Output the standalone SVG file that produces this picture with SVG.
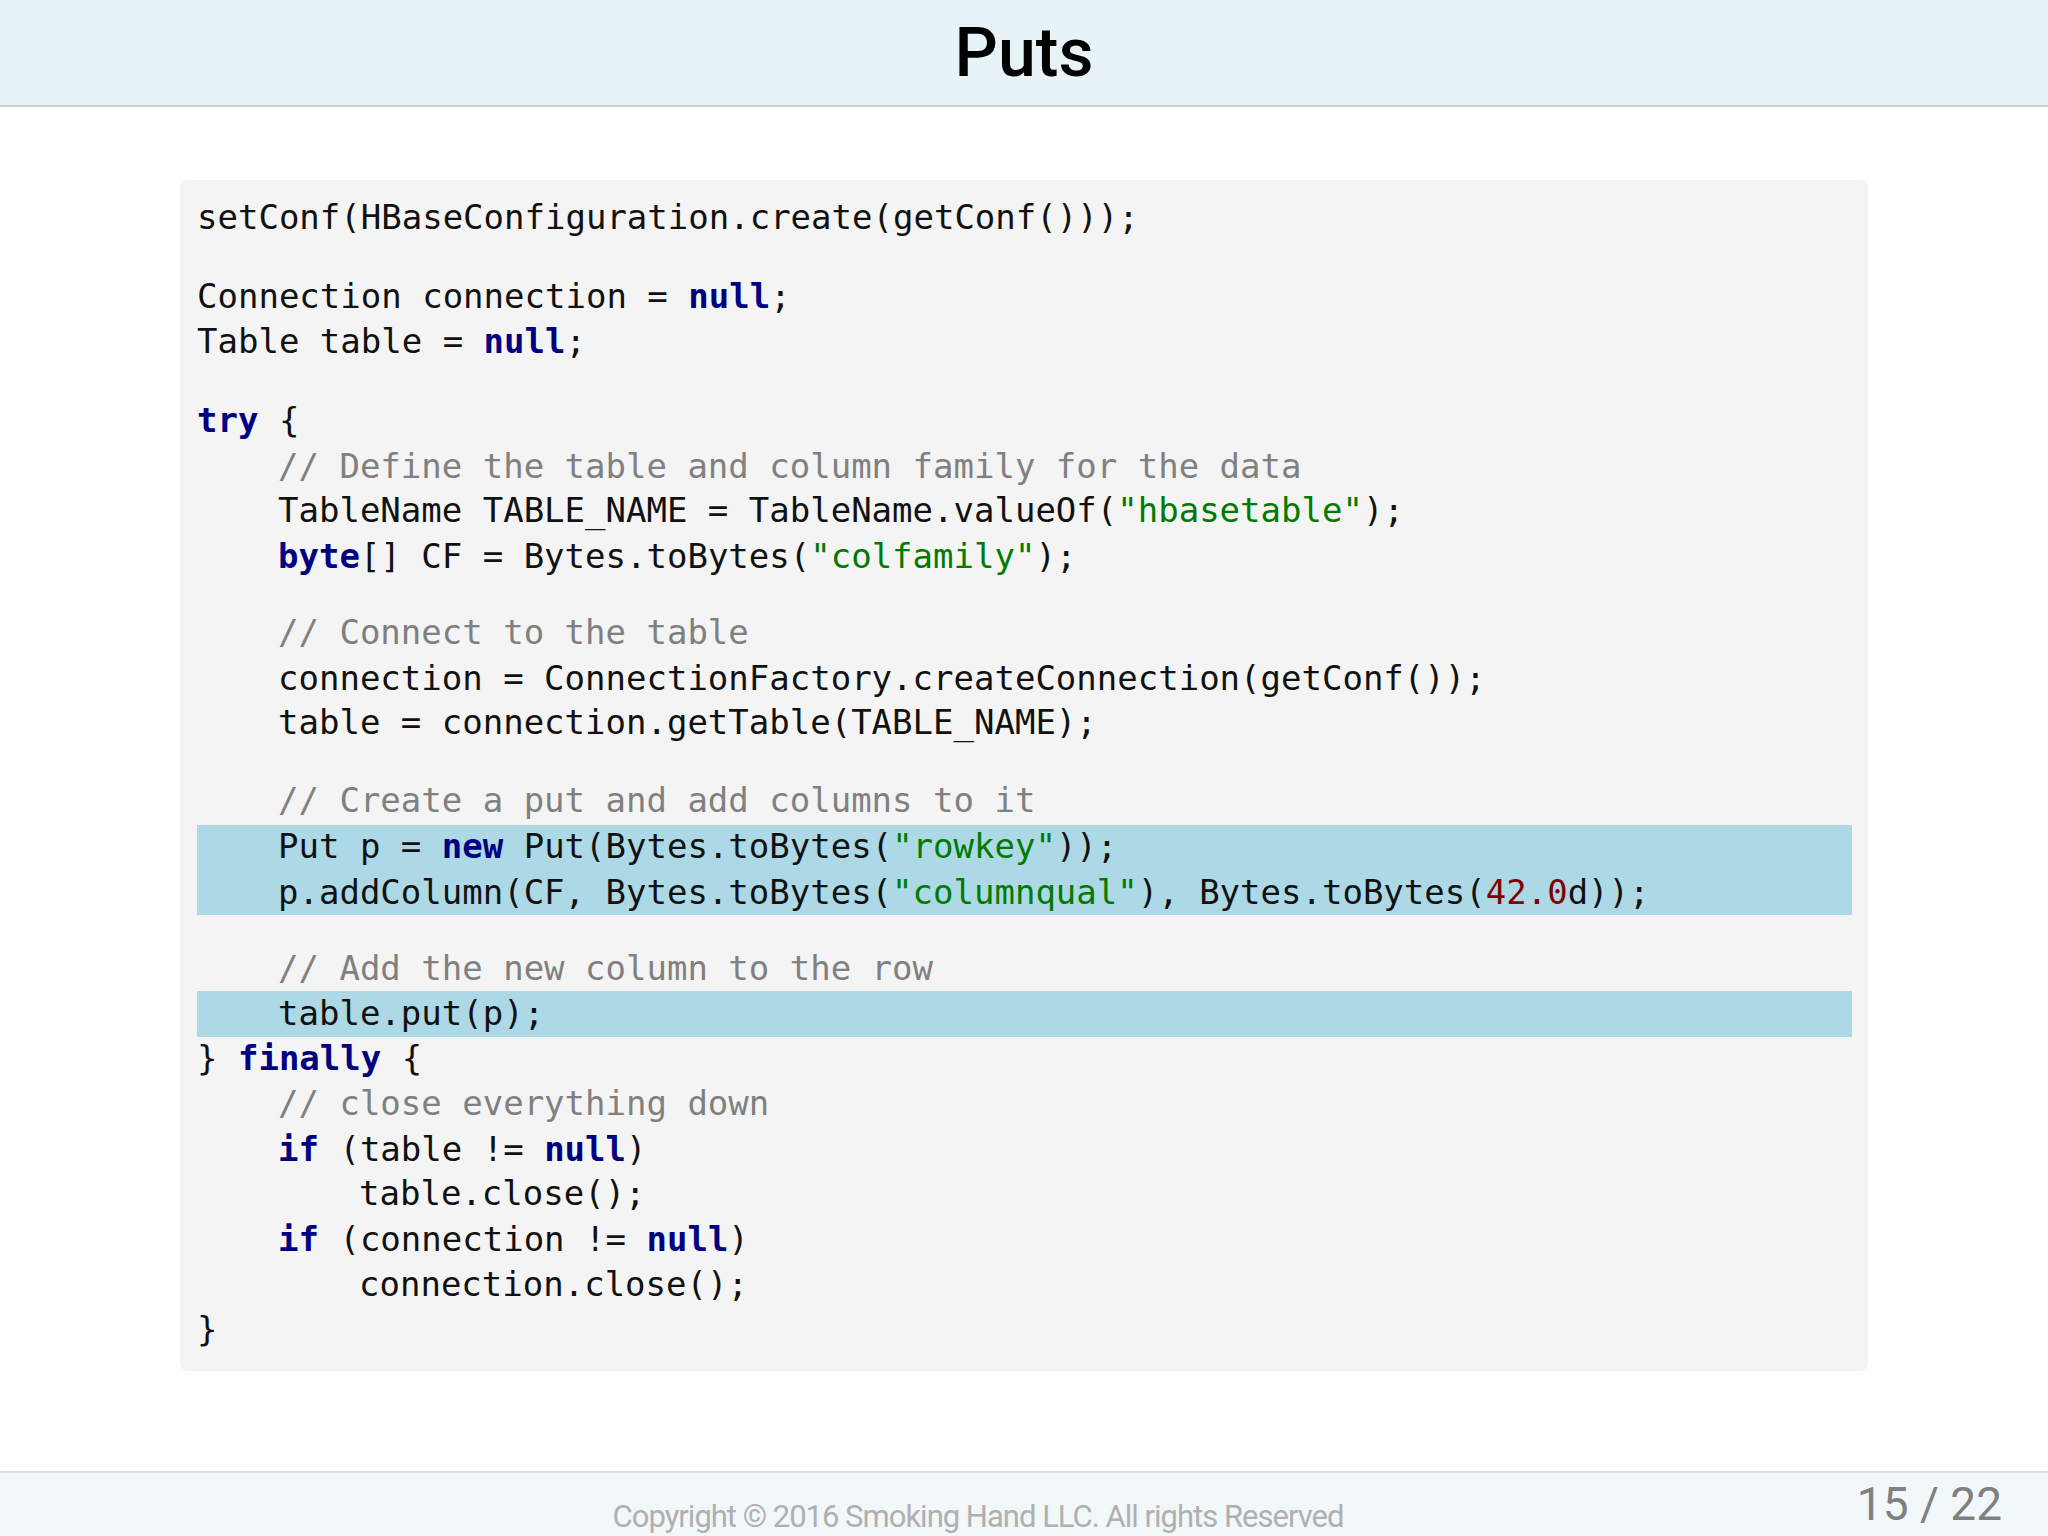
<svg xmlns="http://www.w3.org/2000/svg" width="2048" height="1536" viewBox="0 0 2048 1536">
<style>
.c{font-family:"DejaVu Sans Mono",monospace;font-size:34px;fill:#111}
.k{fill:#000080;font-weight:bold}
.s{fill:#007a00}
.m{fill:#808080}
.n{fill:#800000}
</style>
<rect width="2048" height="1536" fill="#ffffff"/>
<g id="header">
<rect x="0" y="0" width="2048" height="106" fill="#e8f3f7"/>
<line x1="0" y1="106" x2="2048" y2="106" stroke="#cccccc" stroke-width="2"/>
<text x="1024" y="76" text-anchor="middle" font-family="Roboto,sans-serif" font-weight="500" font-size="68" fill="#000">Puts</text>
</g>
<g id="code">
<rect x="180" y="180" width="1688" height="1191" rx="8" fill="#f4f4f4"/>
<rect x="197" y="825" width="1655" height="90" fill="#add8e6"/>
<rect x="197" y="991" width="1655" height="46" fill="#add8e6"/>
<g class="c" xml:space="preserve">
<text x="197" y="229">setConf(HBaseConfiguration.create(getConf()));</text>
<text x="197" y="308">Connection connection = <tspan class="k">null</tspan>;</text>
<text x="197" y="353">Table table = <tspan class="k">null</tspan>;</text>
<text x="197" y="432"><tspan class="k">try</tspan> {</text>
<text x="278" y="478" class="m">// Define the table and column family for the data</text>
<text x="278" y="522">TableName TABLE_NAME = TableName.valueOf(<tspan class="s">"hbasetable"</tspan>);</text>
<text x="278" y="568"><tspan class="k">byte</tspan>[] CF = Bytes.toBytes(<tspan class="s">"colfamily"</tspan>);</text>
<text x="278" y="644" class="m">// Connect to the table</text>
<text x="278" y="690">connection = ConnectionFactory.createConnection(getConf());</text>
<text x="278" y="734">table = connection.getTable(TABLE_NAME);</text>
<text x="278" y="812" class="m">// Create a put and add columns to it</text>
<text x="278" y="858">Put p = <tspan class="k">new</tspan> Put(Bytes.toBytes(<tspan class="s">"rowkey"</tspan>));</text>
<text x="278" y="904">p.addColumn(CF, Bytes.toBytes(<tspan class="s">"columnqual"</tspan>), Bytes.toBytes(<tspan class="n">42.0</tspan>d));</text>
<text x="278" y="980" class="m">// Add the new column to the row</text>
<text x="278" y="1025">table.put(p);</text>
<text x="197" y="1070">} <tspan class="k">finally</tspan> {</text>
<text x="278" y="1115" class="m">// close everything down</text>
<text x="278" y="1161"><tspan class="k">if</tspan> (table != <tspan class="k">null</tspan>)</text>
<text x="359" y="1205">table.close();</text>
<text x="278" y="1251"><tspan class="k">if</tspan> (connection != <tspan class="k">null</tspan>)</text>
<text x="359" y="1296">connection.close();</text>
<text x="197" y="1341">}</text>
</g>
</g>
<g id="footer">
<rect x="0" y="1472" width="2048" height="64" fill="#f2f7f9"/>
<line x1="0" y1="1472" x2="2048" y2="1472" stroke="#e0e0e0" stroke-width="2"/>
<text x="978" y="1527" text-anchor="middle" font-family="Roboto,sans-serif" font-size="31" fill="#b0b0b0" letter-spacing="-1">Copyright © 2016 Smoking Hand LLC. All rights Reserved</text>
<text x="2002" y="1520" text-anchor="end" font-family="Roboto,sans-serif" font-size="46" fill="#808080">15 / 22</text>
</g>
</svg>
